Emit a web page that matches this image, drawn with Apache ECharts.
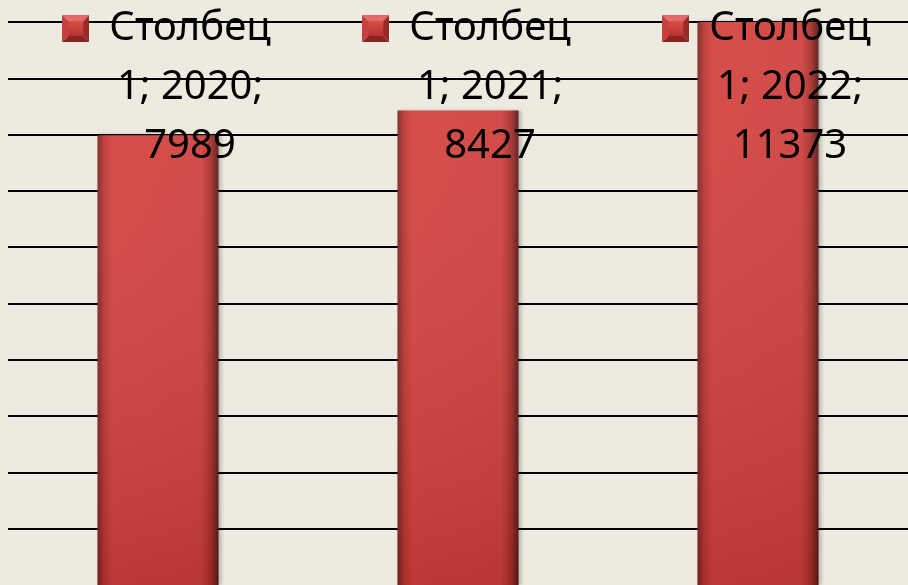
<!DOCTYPE html>
<html>
<head>
<meta charset="utf-8">
<script src="https://cdn.jsdelivr.net/npm/echarts@6/dist/echarts.min.js"></script>
<style>
  html, body { margin: 0; padding: 0; background: #EDEBE0; }
  #main { width: 908px; height: 585px; }
</style>
</head>
<body>
<div id="main"></div>
<script>
var categories = ['2020', '2021', '2022'];
var values = [7989, 8427, 11373];
var seriesName = 'Столбец 1';

// little bevelled legend square drawn on a canvas
function makeMarker() {
    var c = document.createElement('canvas');
    c.width = 27; c.height = 27;
    var g = c.getContext('2d');
    var s = 27, b = 6;
    g.fillStyle = '#E36A68'; // top
    g.beginPath(); g.moveTo(0, 0); g.lineTo(s, 0); g.lineTo(s - b, b); g.lineTo(b, b); g.fill();
    g.fillStyle = '#C8403D'; // left
    g.beginPath(); g.moveTo(0, 0); g.lineTo(b, b); g.lineTo(b, s - b); g.lineTo(0, s); g.fill();
    g.fillStyle = '#9A2A27'; // right
    g.beginPath(); g.moveTo(s, 0); g.lineTo(s, s); g.lineTo(s - b, s - b); g.lineTo(s - b, b); g.fill();
    g.fillStyle = '#8A2321'; // bottom
    g.beginPath(); g.moveTo(0, s); g.lineTo(b, s - b); g.lineTo(s - b, s - b); g.lineTo(s, s); g.fill();
    var grd = g.createLinearGradient(0, b, 0, s - b);
    grd.addColorStop(0, '#D9504C');
    grd.addColorStop(1, '#B5332F');
    g.fillStyle = grd;
    g.fillRect(b, b, s - 2 * b, s - 2 * b);
    return c.toDataURL();
}

var chart = echarts.init(document.getElementById('main'));

var option = {
    backgroundColor: '#EDEBE0',
    animation: false,
    grid: { left: 8, right: -1, top: 22, bottom: 0 },
    xAxis: {
        type: 'category',
        data: categories,
        axisLine: { show: false },
        axisTick: { show: false },
        axisLabel: { show: false }
    },
    yAxis: {
        type: 'value',
        min: 0,
        max: 10000,
        interval: 1000,
        axisLabel: { show: false },
        axisLine: { show: false },
        splitLine: {
            show: true,
            showMinLine: false,
            lineStyle: { color: '#000', width: 2 }
        }
    },
    series: [
        {
            name: seriesName,
            type: 'bar',
            data: values,
            barWidth: 121,
            clip: true,
            itemStyle: {
                color: new echarts.graphic.LinearGradient(0, 0, 1, 0, [
                    { offset: 0, color: '#7A2321' },
                    { offset: 0.05, color: '#B73532' },
                    { offset: 0.12, color: '#D4433F' },
                    { offset: 0.86, color: '#CF413D' },
                    { offset: 0.94, color: '#A52F2C' },
                    { offset: 1, color: '#561917' }
                ]),
                shadowColor: 'rgba(0,0,0,0.25)',
                shadowBlur: 4,
                shadowOffsetX: 2
            }
        },
        {
            // vertical shading over the same bars, carries the labels
            name: seriesName,
            type: 'bar',
            data: values,
            barWidth: 121,
            barGap: '-100%',
            clip: true,
            silent: true,
            itemStyle: {
                color: new echarts.graphic.LinearGradient(0, 0, 0, 1, [
                    { offset: 0, color: 'rgba(255,255,255,0.06)' },
                    { offset: 1, color: 'rgba(60,0,0,0.16)' }
                ])
            },
            label: {
                show: true,
                color: '#000',
                fontFamily: 'Noto Sans',
                fontSize: 40,
                lineHeight: 59,
                formatter: function (p) {
                    var parts = p.seriesName.split(' ');
                    return '{m| }{g| }{t|' + parts[0] + '}{g2| }\n' +
                        '{t|' + parts[1] + '; ' + p.name + ';}\n' +
                        '{t|' + p.value + '}';
                },
                rich: {
                    m: { width: 27, height: 27, lineHeight: 59, backgroundColor: { image: makeMarker() } },
                    g: { width: 20, lineHeight: 59 },
                    g2: { width: 47, lineHeight: 59 },
                    t: { fontFamily: 'Noto Sans', fontSize: 40, lineHeight: 59, color: '#000' }
                }
            },
            labelLayout: function (params) {
                var r = params.rect;
                return {
                    x: r.x + r.width / 2 + 32,
                    y: -1,
                    align: 'center',
                    verticalAlign: 'top'
                };
            }
        }
    ]
};

chart.setOption(option);
</script>
</body>
</html>
